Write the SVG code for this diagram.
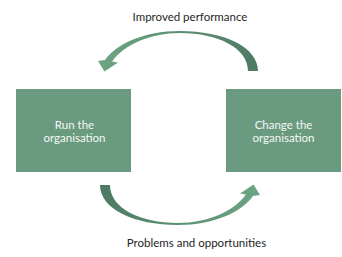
<svg xmlns="http://www.w3.org/2000/svg" width="342" height="257" viewBox="0 0 342 257">
<style>
.box{fill:#6a9a7f}
.bt{font-family:Lato,"Open Sans",sans-serif;font-size:11.5px;fill:#f4f8f5;text-anchor:middle}
.lbl{font-family:Lato,"Open Sans",sans-serif;font-size:11.5px;fill:#262626;text-anchor:middle}
</style>
<defs>
<linearGradient id="ag" x1="0" y1="0" x2="1" y2="0">
<stop offset="0" stop-color="#6da584"/>
<stop offset="1" stop-color="#4d7a62"/>
</linearGradient>
<path id="carrow" fill="url(#ag)" d="M258,71 C258,47 224,31 180,31 C144,31 116,44 105,60 L98,61 L104.5,71.5 L118,62.5 L112,61.5 C124,45 150,33 180,33 C218,33 248,48 248,71 Z"/>
</defs>
<rect width="342" height="257" fill="#ffffff"/>
<g id="connectors">
<use id="arrow-top" href="#carrow"/>
<use id="arrow-bottom" href="#carrow" transform="rotate(180 179 128)"/>
<text class="lbl" x="190" y="21">Improved performance</text>
<text class="lbl" x="196.5" y="247">Problems and opportunities</text>
</g>
<g id="run">
<rect class="box" x="16" y="89" width="115" height="83"/>
<text class="bt" x="74.5" y="128.5">Run the</text>
<text class="bt" x="74.5" y="142.3">organisation</text>
</g>
<g id="change">
<rect class="box" x="226" y="89" width="115" height="83"/>
<text class="bt" x="283.5" y="128.5">Change the</text>
<text class="bt" x="283.5" y="142.3">organisation</text>
</g>
</svg>
